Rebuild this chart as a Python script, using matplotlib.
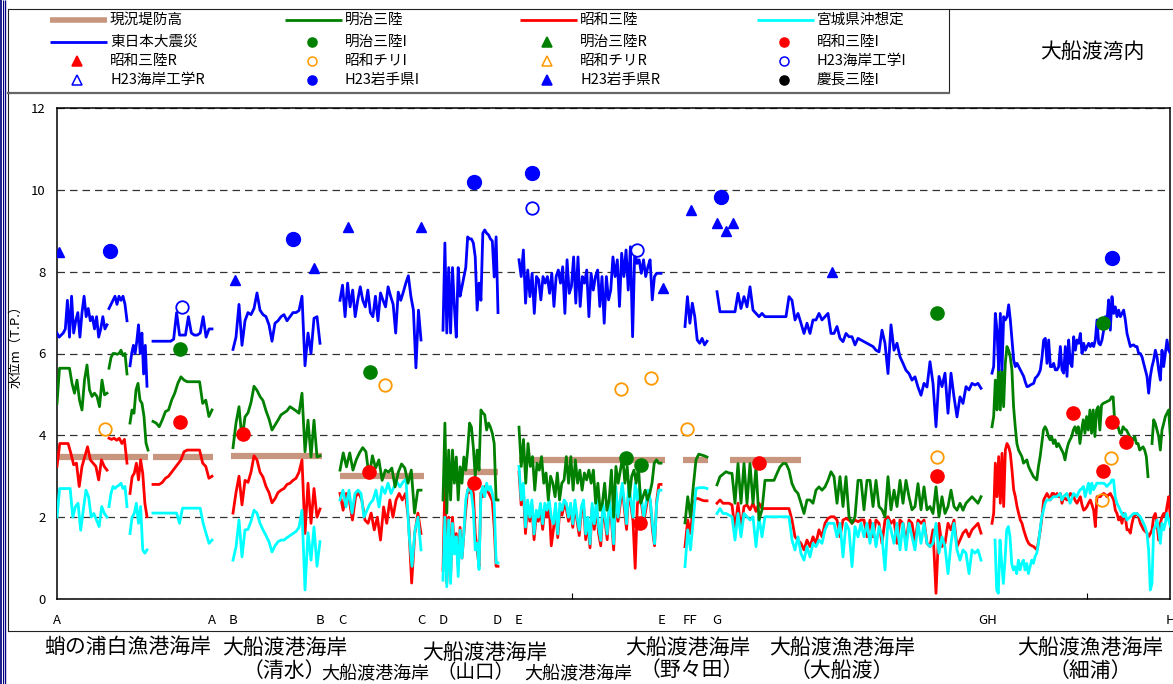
import numpy as np
import matplotlib
matplotlib.use("Agg")
import matplotlib.pyplot as plt

plt.rcParams['font.family'] = ['Noto Sans CJK JP', 'DejaVu Sans']

# ---- data: distance along coast (chart units) and water level (m, T.P.) ----
# each segment: (start, end, levels sampled evenly between start and end)
blue_segs = [
    (0, 50, [6.5, 6.4, 6.45, 6.5, 6.6, 7.3, 6.4, 7.4, 6.5, 6.8, 7.0, 6.4, 7.0, 7.4, 6.9, 7.1, 6.8, 6.9, 6.6, 6.9, 6.4, 6.6, 6.9, 6.6, 6.7]),
    (52, 70, [7.1, 7.2, 7.3, 7.4, 7.2, 7.4, 7.3, 7.4, 7.2, 6.8]),
    (73, 90, [5.7, 6.0, 6.2, 6.0, 6.3, 6.7, 6.0, 6.5, 5.5, 6.2, 5.2]),
    (96, 155, [6.3, 6.3, 6.3, 6.3, 6.3, 6.3, 6.3, 6.35, 7.0, 6.45, 6.45, 6.45, 6.9, 6.5, 6.45, 6.45, 6.5, 6.9, 6.4, 6.6, 6.6]),
    (176, 263, [6.1, 6.4, 7.2, 6.2, 6.8, 7.0, 6.95, 7.1, 7.48, 7.06, 6.95, 6.9, 6.7, 6.3, 6.74, 6.8, 6.9, 6.95, 6.8, 6.9,
                7.0, 7.0, 7.05, 7.4, 5.7, 6.5, 6.0, 6.86, 6.9, 6.25]),
    (283, 364, [7.3, 7.67, 6.9, 7.72, 7.14, 7.55, 6.9, 7.3, 7.63, 7.3, 7.14, 7.55, 7.0, 6.9, 7.4, 6.8, 7.48, 7.3, 7.14, 7.63,
                7.4, 7.2, 6.5, 7.5, 7.3, 7.5, 7.72, 7.9, 7.4, 7.06, 5.65, 7.06, 6.33]),
    (386, 441, [6.57, 8.7, 6.5, 8.1, 6.5, 8.1, 7.14, 6.4, 8.1, 7.4, 7.63, 7.87, 8.1, 8.85, 8.8, 8.8, 8.7, 8.36, 7.06, 7.72,
                7.3, 8.94, 9.02, 8.94, 8.9, 8.8, 8.75, 7.87, 8.85, 7.0]),
    (462, 604, [8.29, 7.88, 8.53, 7.23, 8.04, 7.39, 7.96, 6.98, 7.88, 7.8, 7.31, 7.88, 7.72, 7.88, 7.47, 7.96, 7.15, 7.88, 8.04, 7.72,
                8.12, 6.98, 8.29, 7.47, 7.64, 8.36, 7.23, 8.36, 7.15, 7.88, 7.72, 8.04, 6.9, 7.96, 7.55, 7.88, 8.04, 7.15, 7.88, 6.74,
                7.88, 7.31, 7.55, 8.36, 7.88, 8.29, 7.15, 8.45, 7.88, 8.53, 7.55, 8.61, 6.41, 8.53, 8.2, 8.29, 7.96, 8.29, 7.88, 8.12,
                8.29, 7.31, 7.88, 7.96, 7.96, 7.96]),
    (628, 650, [6.66, 7.39, 6.74, 7.23, 6.9, 6.33, 6.25, 6.37, 6.21, 6.3]),
    (660, 924, [7.51, 7.02, 7.02, 7.02, 7.02, 7.02, 7.02, 7.47, 7.1, 7.39, 7.14, 7.63, 7.06, 6.98, 6.9, 6.98, 6.9, 6.9, 6.9, 6.9,
                6.9, 6.9, 6.9, 6.9, 7.39, 7.3, 6.82, 6.98, 6.74, 6.49, 6.74, 6.49, 6.82, 6.82, 6.98, 6.82, 6.9, 6.98, 6.49, 6.49,
                6.66, 6.37, 6.29, 6.49, 6.41, 6.41, 6.21, 6.37, 6.33, 6.29, 6.25, 6.21, 6.17, 6.08, 6.04, 6.57, 6.25, 5.51, 6.7, 6.08,
                6.25, 5.92, 5.76, 5.59, 5.51, 5.35, 5.43, 5.18, 4.98, 5.27, 5.18, 5.8, 5.27, 4.21, 5.44, 5.19, 5.52, 4.54, 5.52, 4.94,
                4.45, 4.94, 4.78, 5.19, 5.11, 5.27, 5.23, 5.27, 5.15]),
    (935, 1115, [5.52, 5.68, 6.98, 6.57, 5.6, 6.98, 5.6, 6.9, 6.82, 6.9, 7.19, 6.82, 6.33, 5.84, 5.68, 5.76, 5.68, 5.6, 5.52, 5.44,
                 5.3, 5.19, 5.2, 5.23, 5.25, 5.27, 5.4, 5.44, 5.5, 5.6, 5.9, 6.33, 6.37, 5.76, 6.33, 5.68, 5.68, 5.76, 5.6, 5.6,
                 5.68, 6.17, 5.6, 5.52, 6.17, 5.44, 6.33, 5.76, 5.68, 6.41, 6.08, 6.33, 6.25, 6.49, 6.0, 6.25, 6.08, 6.17, 6.25, 6.17,
                 6.25, 6.17, 6.33, 6.82, 6.25, 6.21, 6.33, 6.57, 6.9, 6.82, 7.31, 6.57, 7.39, 6.98, 7.14, 6.9, 7.06, 6.9, 6.98, 7.06,
                 6.82, 6.49, 6.33, 6.17, 6.2, 6.21, 6.17, 6.17, 6.0, 6.0, 5.92, 5.76, 5.6, 5.44, 5.03, 5.44, 5.68, 5.84, 6.08, 5.92,
                 5.6, 5.35, 6.08, 5.68, 6.0, 6.33, 6.08, 6.0, 6.0]),
]

green_segs = [
    (0, 50, [4.78, 5.64, 5.64, 5.64, 5.64, 5.64, 5.27, 5.03, 5.35, 4.86, 4.62, 5.35, 5.72, 5.11, 4.95, 5.03, 4.95, 4.7, 5.35, 4.99, 5.03]),
    (52, 70, [5.64, 5.9, 6.0, 6.0, 5.98, 6.0, 6.08, 5.95, 6.0, 5.5]),
    (73, 91, [4.3, 4.62, 4.54, 5.11, 5.27, 4.86, 4.78, 4.46, 3.81, 3.64]),
    (96, 155, [4.34, 4.3, 4.21, 4.38, 4.58, 4.62, 4.86, 5.03, 5.27, 5.43, 5.35, 5.31, 5.31, 5.31, 5.31, 5.31, 4.78, 4.86, 4.46, 4.62]),
    (176, 263, [3.7, 4.3, 4.7, 3.9, 4.45, 4.55, 4.8, 5.2, 5.1, 4.95, 4.85, 4.6, 4.4, 4.13, 4.25, 4.37, 4.5, 4.55, 4.6, 4.7,
                4.65, 4.6, 4.54, 5.03, 3.6, 4.37, 3.47, 4.37, 3.47, 3.5]),
    (283, 364, [3.15, 3.57, 3.23, 3.57, 3.15, 3.4, 3.57, 3.7, 3.6, 2.98, 3.5, 3.2, 3.4, 2.9, 3.15, 3.1, 3.2, 2.74, 3.1, 3.3,
                3.2, 2.83, 3.15, 2.1, 2.66, 2.66]),
    (386, 441, [2.42, 4.3, 2.1, 3.64, 2.42, 3.64, 2.83, 3.47, 2.42, 3.23, 2.83, 3.47, 3.15, 3.64, 4.3, 4.2, 3.7, 3.0, 3.64, 3.15,
                4.62, 4.55, 4.5, 4.13, 4.3, 4.2, 4.05, 3.8, 2.42, 2.42]),
    (462, 604, [4.2, 3.24, 3.9, 2.83, 3.8, 3.24, 3.48, 2.66, 3.32, 3.15, 3.48, 2.83, 3.08, 2.42, 3.0, 2.83, 2.5, 3.08, 2.42, 2.83,
                2.91, 3.48, 2.83, 3.48, 2.66, 3.4, 2.83, 3.15, 2.66, 3.08, 2.91, 3.15, 2.83, 3.15, 2.34, 2.83, 2.17, 2.34, 2.83, 2.17,
                2.42, 3.15, 2.0, 3.24, 2.83, 3.15, 3.48, 2.83, 3.24, 2.5, 3.0, 3.15, 2.83, 3.24, 2.34, 2.5, 2.66, 2.42, 2.58, 2.83,
                3.32, 3.4, 3.32, 3.32]),
    (628, 650, [1.86, 2.5, 2.0, 2.74, 3.4, 3.54, 3.52, 3.5, 3.47]),
    (660, 924, [2.79, 2.99, 3.05, 3.11, 3.08, 3.07, 2.34, 3.31, 2.34, 3.31, 2.34, 3.31, 2.34, 3.23, 1.93, 2.18, 2.9, 2.9, 2.9, 2.9,
                3.07, 3.23, 3.31, 3.31, 3.15, 2.82, 2.66, 2.58, 2.34, 2.09, 2.42, 2.42, 2.34, 2.66, 2.74, 2.66, 2.74, 2.9, 3.11, 2.99,
                2.34, 2.99, 2.26, 2.99, 2.01, 1.85, 2.01, 2.9, 2.9, 2.18, 2.9, 2.9, 2.26, 2.9, 2.26, 2.18, 2.01, 2.99, 2.18, 2.66,
                2.26, 2.9, 2.34, 2.9, 2.5, 2.18, 2.26, 2.82, 2.18, 2.74, 2.18, 2.26, 2.09, 2.74, 2.01, 2.5, 2.09, 2.26, 2.66, 2.26,
                2.17, 2.34, 2.17, 2.34, 2.42, 2.5, 2.42, 2.34, 2.5]),
    (935, 1091, [4.21, 4.46, 5.35, 4.62, 5.76, 4.62, 5.6, 4.7, 5.76, 6.17, 6.08, 5.92, 5.6, 4.7, 4.21, 3.8, 3.64, 3.56, 3.48, 3.32,
                 3.36, 3.4, 3.24, 3.15, 3.07, 2.99, 2.95, 2.91, 3.24, 3.48, 3.8, 4.13, 4.21, 4.13, 3.97, 3.89, 3.97, 3.8, 3.89, 3.72,
                 3.8, 3.72, 3.64, 3.56, 3.4, 3.64, 3.8, 3.89, 3.97, 4.13, 4.21, 4.05, 4.21, 3.8, 4.13, 4.38, 4.05, 4.46, 4.13, 4.62,
                 4.05, 4.62, 3.97, 4.62, 4.7, 4.13, 4.74, 4.78, 4.8, 4.82, 4.84, 4.86, 4.94, 4.94, 4.29, 4.21, 4.21, 4.05, 4.05, 4.21,
                 4.15, 4.13, 4.05, 3.97, 3.93, 3.89, 3.97, 3.8, 3.8, 3.64, 3.68, 3.72, 3.64, 3.48, 2.99]),
    (1095, 1115, [3.8, 4.38, 4.29, 4.13, 3.97, 3.64, 4.13, 4.29, 4.46, 4.54, 4.62, 3.97, 3.8]),
]

red_segs = [
    (0, 50, [3.24, 3.8, 3.8, 3.8, 3.8, 3.56, 3.28, 3.32, 2.75, 3.24, 3.48, 3.72, 3.4, 3.32, 3.24, 2.91, 3.4, 3.24, 3.15]),
    (52, 70, [3.93, 3.9, 3.93, 3.88, 3.93, 3.8, 3.9, 3.32]),
    (73, 90, [2.58, 2.99, 3.07, 3.32, 2.91, 3.4, 3.07, 2.34, 2.01]),
    (96, 155, [2.8, 2.8, 2.8, 2.85, 2.95, 3.0, 3.1, 3.2, 3.3, 3.4, 3.6, 3.64, 3.64, 3.64, 3.64, 3.64, 3.32, 3.24, 2.95, 3.0]),
    (176, 263, [2.1, 2.6, 3.0, 2.3, 2.9, 2.85, 3.1, 3.5, 3.4, 3.1, 2.98, 2.75, 2.6, 2.35, 2.45, 2.6, 2.66, 2.7, 2.8, 2.83,
                2.9, 2.95, 3.1, 3.4, 1.6, 2.83, 1.85, 2.7, 2.0, 2.2]),
    (283, 364, [2.58, 2.17, 2.58, 2.4, 1.93, 2.5, 2.6, 2.42, 1.93, 1.85, 2.1, 1.69, 2.0, 1.44, 2.25, 1.85, 2.42, 2.0, 2.42, 2.58,
                2.42, 2.58, 1.93, 0.39, 1.6, 2.1, 1.6]),
    (386, 441, [0.7, 2.83, 0.39, 2.0, 0.55, 2.0, 1.2, 1.6, 0.8, 1.75, 1.0, 1.6, 2.17, 2.66, 2.6, 2.66, 2.6, 1.6, 1.2, 0.8,
                2.6, 2.5, 2.75, 2.66, 2.6, 2.5, 2.4, 1.75, 0.8, 0.8]),
    (462, 604, [3.1, 2.3, 2.7, 1.6, 2.3, 1.9, 2.3, 1.45, 2.05, 1.9, 2.2, 1.7, 2.2, 2.0, 2.3, 1.3, 1.7, 2.2, 1.5, 2.2,
                2.05, 2.3, 2.2, 1.9, 2.2, 1.75, 2.3, 1.9, 1.55, 2.15, 2.3, 1.45, 1.9, 1.25, 2.25, 1.7, 2.3, 1.6, 1.3, 2.2,
                1.9, 1.45, 2.3, 1.9, 1.2, 2.6, 1.9, 2.3, 2.7, 2.2, 1.7, 2.7, 2.3, 1.9, 0.75, 2.3, 2.6, 2.3, 1.9, 2.2,
                2.5, 2.4, 1.7, 1.3, 2.4, 2.8, 2.8]),
    (628, 650, [1.28, 1.93, 1.6, 2.34, 2.46, 2.45, 2.42, 2.4, 2.4]),
    (660, 924, [2.34, 2.42, 2.34, 2.34, 2.34, 2.3, 1.69, 2.34, 1.69, 2.26, 2.3, 2.18, 2.34, 2.14, 2.34, 2.21, 2.21, 2.21, 2.21, 2.21,
                2.21, 2.21, 2.21, 2.21, 2.21, 1.93, 1.52, 1.44, 1.36, 1.2, 1.44, 1.28, 1.52, 1.36, 1.69, 1.52, 1.85, 1.97, 2.01, 2.01,
                1.93, 1.52, 1.93, 1.97, 1.93, 1.85, 1.93, 1.89, 1.93, 1.93, 1.52, 1.93, 1.52, 1.93, 1.85, 1.36, 1.93, 2.01, 1.85, 1.93,
                1.36, 1.93, 1.85, 1.36, 1.93, 1.85, 1.36, 1.93, 1.85, 1.93, 1.36, 1.28, 1.69, 0.14, 1.85, 1.28, 1.36, 1.85, 1.69, 1.93,
                1.28, 1.44, 1.61, 1.69, 1.52, 1.69, 1.77, 1.85, 1.61]),
    (935, 1115, [1.85, 2.09, 3.32, 2.5, 3.48, 2.34, 3.56, 2.26, 3.64, 3.8, 3.72, 3.56, 3.15, 2.67, 2.5, 2.26, 2.09, 1.93, 1.85, 1.69,
                 1.56, 1.44, 1.36, 1.32, 1.3, 1.28, 1.24, 1.2, 1.44, 1.69, 2.01, 2.42, 2.5, 2.58, 2.5, 2.42, 2.58, 2.58, 2.5, 2.58,
                 2.5, 2.58, 2.34, 2.5, 2.45, 2.42, 2.5, 2.58, 2.55, 2.5, 2.4, 2.34, 2.42, 2.5, 2.3, 2.17, 2.2, 2.26, 2.35, 2.42,
                 2.3, 2.17, 1.77, 2.5, 2.5, 2.5, 2.55, 2.58, 2.55, 2.5, 2.55, 2.58, 2.5, 2.42, 2.17, 2.09, 1.93, 2.01, 1.85, 2.09,
                 2.01, 1.69, 1.69, 1.61, 1.85, 2.01, 2.05, 2.09, 2.0, 1.85, 1.77, 1.69, 1.65, 1.61, 1.52, 1.6, 1.69, 2.01, 2.09, 1.85,
                 1.44, 1.85, 2.01, 2.09, 2.01, 2.26, 2.5, 2.01, 2.09]),
]

cyan_segs = [
    (0, 50, [2.0, 2.7, 2.7, 2.7, 2.7, 2.7, 2.0, 2.26, 2.34, 1.68, 2.18, 2.66, 2.5, 2.0, 2.09, 1.93, 1.77, 2.26, 2.09, 2.0]),
    (52, 70, [2.26, 2.58, 2.75, 2.7, 2.75, 2.78, 2.83, 2.7, 2.75, 2.26]),
    (73, 90, [1.6, 2.0, 2.09, 2.34, 1.85, 2.26, 1.2, 1.12, 1.2]),
    (96, 155, [2.1, 2.1, 2.1, 2.1, 2.1, 2.1, 2.1, 2.1, 2.1, 1.85, 2.22, 2.22, 2.22, 2.22, 2.22, 2.22, 2.22, 1.85, 1.6, 1.36, 1.44]),
    (176, 263, [0.95, 1.27, 1.93, 1.03, 1.69, 1.7, 1.9, 2.17, 2.1, 1.85, 1.69, 1.55, 1.4, 1.15, 1.3, 1.4, 1.44, 1.44, 1.5, 1.55,
                1.6, 1.65, 1.75, 2.17, 0.22, 1.62, 0.95, 1.76, 0.8, 1.4]),
    (283, 364, [2.42, 2.66, 2.25, 2.66, 2.1, 2.58, 2.66, 2.58, 2.0, 2.17, 2.33, 2.42, 2.66, 2.25, 2.74, 2.58, 2.83, 2.58, 2.74, 2.86,
                2.74, 2.86, 2.93, 1.6, 0.8, 1.69, 2.0, 1.2]),
    (386, 441, [0.46, 2.0, 0.3, 1.93, 0.38, 1.85, 1.1, 1.52, 0.55, 1.68, 1.0, 1.6, 2.42, 2.66, 2.75, 2.58, 2.17, 1.2, 1.36, 0.72,
                2.58, 2.75, 2.5, 2.83, 2.66, 2.75, 2.58, 2.34, 0.88, 0.88]),
    (462, 604, [3.24, 2.42, 2.83, 1.76, 2.42, 2.0, 2.42, 1.59, 2.17, 2.0, 2.34, 1.84, 2.34, 2.17, 2.42, 2.0, 1.84, 2.34, 1.59, 2.34,
                2.17, 2.42, 2.34, 2.0, 2.34, 1.84, 2.42, 2.0, 1.68, 2.26, 2.42, 1.59, 2.0, 1.35, 2.34, 1.84, 2.42, 1.76, 1.43, 2.34,
                2.0, 1.59, 2.42, 2.0, 1.35, 2.75, 2.0, 2.42, 2.83, 2.34, 1.84, 2.83, 2.42, 2.0, 2.83, 2.42, 2.75, 2.42, 2.0, 2.34,
                2.66, 2.42, 1.84, 1.35, 2.34, 2.66, 2.66]),
    (628, 650, [0.79, 1.69, 1.2, 1.93, 2.7, 2.72, 2.72, 2.72, 2.7]),
    (660, 924, [2.09, 2.21, 2.09, 2.09, 2.05, 2.01, 1.44, 2.09, 1.52, 2.09, 2.01, 1.93, 2.01, 1.28, 2.01, 1.52, 2.01, 2.01, 2.01, 2.01,
                2.01, 2.01, 2.01, 2.01, 2.01, 1.44, 1.2, 1.52, 1.11, 0.95, 1.28, 1.03, 1.36, 1.28, 1.44, 1.36, 1.69, 1.85, 1.85, 1.85,
                1.52, 1.85, 1.03, 1.85, 1.69, 0.79, 1.77, 1.52, 1.85, 1.52, 1.85, 1.36, 1.85, 1.28, 1.77, 1.52, 0.71, 1.93, 1.69, 1.36,
                1.85, 1.2, 1.85, 1.2, 1.85, 1.52, 1.2, 1.85, 1.36, 1.85, 1.36, 1.28, 1.36, 1.85, 1.12, 1.52, 1.28, 0.62, 1.36, 1.85,
                1.2, 0.95, 1.2, 1.12, 0.62, 1.2, 1.12, 1.2, 0.95]),
    (938, 1115, [1.44, 0.22, 0.14, 1.44, 0.87, 0.38, 0.95, 1.69, 1.77, 1.52, 0.87, 0.71, 0.79, 0.62, 0.95, 0.71, 0.87, 0.95, 0.71, 0.87,
                 0.62, 0.79, 0.95, 0.87, 1.04, 1.12, 1.36, 1.69, 2.01, 2.17, 2.34, 2.42, 2.42, 2.42, 2.46, 2.5, 2.5, 2.5, 2.54, 2.58,
                 2.42, 2.5, 2.54, 2.58, 2.46, 2.34, 2.46, 2.58, 2.54, 2.5, 2.6, 2.67, 2.7, 2.75, 2.5, 2.67, 2.83, 2.58, 2.83, 2.67,
                 2.75, 2.83, 2.83, 2.83, 2.83, 2.83, 2.8, 2.75, 2.8, 2.83, 2.91, 2.91, 2.5, 2.34, 2.26, 2.17, 2.09, 2.01, 2.09, 1.93,
                 1.97, 2.01, 2.05, 2.09, 2.09, 2.09, 2.05, 2.01, 1.93, 1.85, 1.75, 1.61, 1.2, 0.22, 0.38, 1.69, 1.77, 1.93, 1.69, 1.36,
                 1.85, 1.69, 1.85, 2.09, 1.93, 1.77, 1.85]),
]

# existing embankment height (flat stretches)
dike_start = [0, 96, 174, 283, 406, 462, 626, 673]
dike_end = [91, 156, 265, 367, 441, 608, 651, 744]
dike_level = [3.47, 3.47, 3.5, 3.0, 3.1, 3.4, 3.4, 3.4]

# survey points
meiji_I_x = [123, 313, 569, 584, 880, 1046]
meiji_I_y = [6.1, 5.55, 3.45, 3.27, 7.0, 6.74]
showa_I_x = [123, 186, 312, 417, 583, 702, 880, 1016, 1055, 1069, 1046]
showa_I_y = [4.33, 4.03, 3.1, 2.83, 1.85, 3.32, 3.0, 4.54, 4.33, 3.83, 3.13]
chile_I_x = [48, 328, 564, 594, 630, 880, 1054, 1045]
chile_I_y = [4.15, 5.23, 5.13, 5.4, 4.15, 3.46, 3.45, 2.42]
kaigan_I_x = [125, 475, 580]
kaigan_I_y = [7.14, 9.55, 8.53]
iwate_I_x = [53, 236, 417, 475, 664, 1055]
iwate_I_y = [8.5, 8.8, 10.2, 10.4, 9.83, 8.33]
iwate_R_x = [2, 178, 257, 291, 364, 606, 634, 660, 669, 676, 775]
iwate_R_y = [8.48, 7.8, 8.09, 9.1, 9.1, 7.6, 9.5, 9.2, 9.0, 9.2, 8.0]

section_marks = ['A', 'A', 'B', 'B', 'C', 'C', 'D', 'D', 'E', 'E', 'FF', 'G', 'GH', 'H']
section_mark_x = [0, 155, 176, 263, 285, 364, 386, 440, 462, 605, 633, 660, 931, 1113]

W, H = 1173, 684
fig = plt.figure(figsize=(W / 100, H / 100), dpi=100)

# background layer in pixel coordinates: frames, legend, area names
bg = fig.add_axes([0, 0, 1, 1], zorder=0)
bg.set_xlim(0, W)
bg.set_ylim(H, 0)
bg.axis('off')

for xv, lw in [(0.85, 1.25), (2.8, 0.75), (5.0, 1.0)]:
    bg.plot([xv, xv], [0, H], color='#000080', lw=lw, solid_capstyle='butt')
k = dict(color='#222222', lw=0.8)
bg.plot([8, W], [9, 9], **k)
bg.plot([8, 8], [9, 631], **k)
bg.plot([8, W], [631, 631], **k)
bg.plot([949, 949], [9, 92], **k)
bg.plot([8, 949], [92.5, 92.5], color='#666666', lw=1.6)

BROWN = '#c8967f'
GREEN = '#008000'
RED = '#ff0000'
CYAN = '#00ffff'
BLUE = '#0000ff'
ORANGE = '#ff9900'

leg_rows = [20, 42, 61, 80]
leg_cols = [50, 285, 520, 757]
leg_items = [
    [('line', BROWN, '現況堤防高'), ('line', GREEN, '明治三陸'), ('line', RED, '昭和三陸'), ('line', CYAN, '宮城県沖想定')],
    [('line', BLUE, '東日本大震災'), ('o', GREEN, '明治三陸I'), ('^', GREEN, '明治三陸R'), ('o', RED, '昭和三陸I')],
    [('^', RED, '昭和三陸R'), ('o_open', ORANGE, '昭和チリI'), ('^_open', ORANGE, '昭和チリR'), ('o_open', BLUE, 'H23海岸工学I')],
    [('^_open', BLUE, 'H23海岸工学R'), ('o', BLUE, 'H23岩手県I'), ('^', BLUE, 'H23岩手県R'), ('o', 'black', '慶長三陸I')],
]
for yr, row in zip(leg_rows, leg_items):
    for xc, (kind, col, lab) in zip(leg_cols, row):
        if kind == 'line':
            bg.plot([xc, xc + 57], [yr, yr], color=col, lw=4.0 if col == BROWN else 2.0, solid_capstyle='butt')
        else:
            m = kind[0]
            face = 'none' if kind.endswith('open') else col
            bg.plot([xc + 27], [yr], marker=m, ms=6.5, mfc=face, mec=col, mew=1.1, ls='none')
        bg.text(xc + 60, yr, lab, fontsize=10.5, va='center', ha='left')

bg.text(1092, 52, '大船渡湾内', fontsize=15, ha='center', va='center')

# area names below the chart (lower row sits at the bottom edge)
area_names = [
    ('蛸の浦白漁港海岸', 128, 647, 15), ('大船渡港海岸', 285, 648, 15), ('（清水）', 284, 671, 15),
    ('大船渡港海岸', 485, 653, 15), ('（山口）', 476, 673, 14), ('大船渡港海岸', 375, 674, 13),
    ('大船渡港海岸', 578, 674, 13), ('大船渡港海岸', 688, 648, 15), ('（野々田）', 692, 670, 15),
    ('大船渡漁港海岸', 842, 648, 15), ('（大船渡）', 842, 671, 15),
    ('大船渡漁港海岸', 1090, 648, 15), ('（細浦）', 1090, 671, 15),
]
for name, xn, yn, fs in area_names:
    bg.text(xn, yn, name, fontsize=fs, ha='center', va='center')

# main chart
ax = fig.add_axes([57 / W, (H - 599) / H, 1113 / W, 491 / H], zorder=1)
ax.set_xlim(0, 1113)
ax.set_ylim(0, 12)


def draw(segs, **kw):
    for x0, x1, vals in segs:
        ax.plot(np.linspace(x0, x1, len(vals)), vals, **kw)


for s, e, lv in zip(dike_start, dike_end, dike_level):
    ax.plot([s, e], [lv, lv], color=BROWN, lw=4.5, solid_capstyle='butt', zorder=2)
draw(red_segs, color=RED, lw=2.0, zorder=3)
draw(cyan_segs, color=CYAN, lw=2.0, zorder=4)
draw(green_segs, color=GREEN, lw=2.0, zorder=5)
draw(blue_segs, color=BLUE, lw=2.0, zorder=6)

ax.plot(meiji_I_x, meiji_I_y, 'o', color=GREEN, ms=9.5, ls='none', zorder=8)
ax.plot(showa_I_x, showa_I_y, 'o', color=RED, ms=9.5, ls='none', zorder=8)
ax.plot(chile_I_x, chile_I_y, 'o', mfc='none', mec=ORANGE, mew=1.3, ms=9, ls='none', zorder=8)
ax.plot(kaigan_I_x, kaigan_I_y, 'o', mfc='white', mec=BLUE, mew=1.3, ms=9, ls='none', zorder=8)
ax.plot(iwate_I_x, iwate_I_y, 'o', color=BLUE, ms=10, ls='none', zorder=8)
ax.plot(iwate_R_x, iwate_R_y, '^', color=BLUE, ms=7, ls='none', zorder=8)

ax.set_yticks(range(0, 13, 2))
ax.tick_params(axis='y', length=0, pad=8, labelsize=9.5)
ax.set_xticks([515, 1030])
ax.set_xticklabels([])
ax.tick_params(axis='x', direction='in', length=4, width=0.8)
ax.grid(axis='y', color='#333333', lw=0.9, linestyle=(0, (6, 4)))
ax.set_axisbelow(True)
for sp in ax.spines.values():
    sp.set_linewidth(1.1)

ax.set_ylabel('水位m（T.P.）', fontsize=9.5)
ax.yaxis.set_label_coords(-35 / 1113, 0.52)

for lab, xm in zip(section_marks, section_mark_x):
    ax.text(xm, -0.043, lab, transform=ax.get_xaxis_transform(), ha='center', va='center', fontsize=9.5)

fig.savefig('out.png', dpi=100)
